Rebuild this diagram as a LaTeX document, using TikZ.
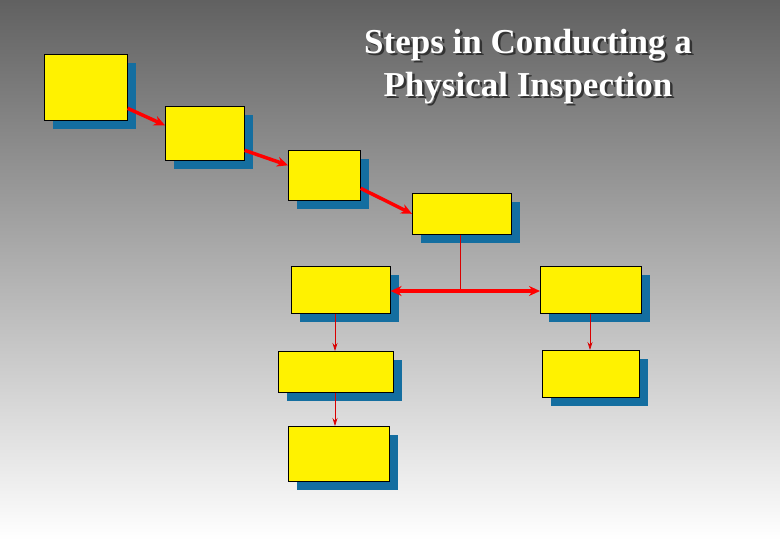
\documentclass[tikz,border=0pt]{standalone}
\usepackage{fontspec}
\setmainfont{Liberation Serif}
\usetikzlibrary{arrows.meta}
\begin{document}
\begin{tikzpicture}[x=1pt,y=-1pt,
  box/.style={draw=black,line width=0.6pt,fill=yellow},
  thick arrow/.style={red,line width=3.5pt,-{Stealth[length=11pt,width=10pt]}},
  thin arrow/.style={red!85!black,line width=0.7pt,-{Stealth[length=8pt,width=5pt]}},
  title/.style={font=\fontsize{35}{38}\selectfont\bfseries}]
\useasboundingbox (0,0) rectangle (780,540);
\shade[top color=black!62,bottom color=white] (0,0) rectangle (780,540);
\definecolor{shd}{RGB}{20,110,160}
\foreach \n/\a/\b/\c/\d in {b1/44/54/127/120,b2/165/106/244/160,b3/288/150/360/200,b4/412/193/511/234,b5/291/266/390/313,b6/540/266/641/313,b7/278/351/393/392,b8/542/350/639/397,b9/288/426/389/481}{
  \fill[shd] (\a+9,\b+9) rectangle (\c+9,\d+9);
  \node[box,minimum width={(\c-\a)*1pt},minimum height={(\d-\b)*1pt},inner sep=0,anchor=north west] (\n) at (\a,\b) {};
}
\node[title,text=black!80] (s1) at (530.5,47.5) {Steps in Conducting a};
\node[title,text=black!80] (s2) at (530.5,90.5) {Physical Inspection};
\node[title,text=white] (t1) at (528,45) {Steps in Conducting a};
\node[title,text=white] (t2) at (528,88) {Physical Inspection};
\draw[thick arrow] ([yshift=-21pt]b1.east) -- ([yshift=8pt]b2.west);
\draw[thick arrow] ([yshift=-17pt]b2.east) -- ([yshift=10pt]b3.west);
\draw[thick arrow] ([yshift=-13pt]b3.east) -- (b4.west);
\coordinate (j) at (460,291);
\draw[red!85!black,line width=0.7pt] (b4.south -| j) -- (j);
\draw[red,line width=3.5pt,{Stealth[length=11pt,width=10pt]}-{Stealth[length=11pt,width=10pt]}] (b5.east |- j) -- (b6.west |- j);
\draw[thin arrow] (b5.south -| 335,0) -- (b7.north -| 335,0);
\draw[thin arrow] (b7.south -| 335,0) -- (b9.north -| 335,0);
\draw[thin arrow] (b6.south -| 590,0) -- (b8.north -| 590,0);
\end{tikzpicture}
\end{document}
